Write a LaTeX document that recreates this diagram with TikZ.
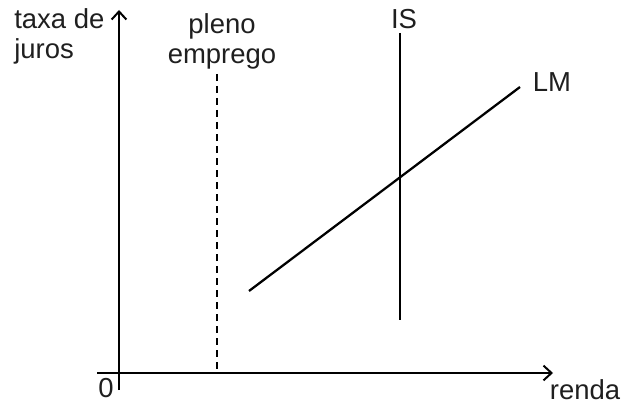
\documentclass[tikz,border=0pt]{standalone}
\usepackage{fontspec}
\setmainfont{Liberation Sans}
\usetikzlibrary{arrows.meta}
\begin{document}
\begin{tikzpicture}[x=0.75pt,y=-0.75pt,
  axis/.style={line width=1.5pt,-{Straight Barb[length=6pt,width=11pt,line width=1.5pt]}},
  curve/.style={line width=1.7pt},
  lbl/.style={font=\fontsize{20.6}{22.5}\selectfont,inner sep=0pt,text=black!88},
]
\useasboundingbox (0,0) rectangle (634,406);
\coordinate (ystart) at (119,390);
\coordinate (yend) at (119,10);
\coordinate (xstart) at (97,373);
\coordinate (xend) at (553,373);
\draw[axis] (ystart) -- (yend);
\draw[axis] (xstart) -- (xend);
\coordinate (fe1) at (217,74);
\coordinate (fe2) at (217,373);
\draw[line width=0.8pt,dash pattern=on 5.5pt off 3.5pt] (fe1) -- (fe2);
\coordinate (is1) at (400,33);
\coordinate (is2) at (400,320);
\draw[curve] (is1) -- (is2);
\coordinate (lm1) at (249,291);
\coordinate (lm2) at (520,87);
\draw[curve] (lm1) -- (lm2);
\node[lbl,anchor=west,align=left] (taxa) at (14,36) {taxa de\\juros};
\node[lbl,align=center] (pleno) at (222,41) {pleno\\emprego};
\node[lbl] (IS) at (404,19) {IS};
\node[lbl] (LM) at (552,82) {LM};
\node[lbl] (zero) at (106,388) {0};
\node[lbl] (renda) at (585,390) {renda};
\end{tikzpicture}
\end{document}
